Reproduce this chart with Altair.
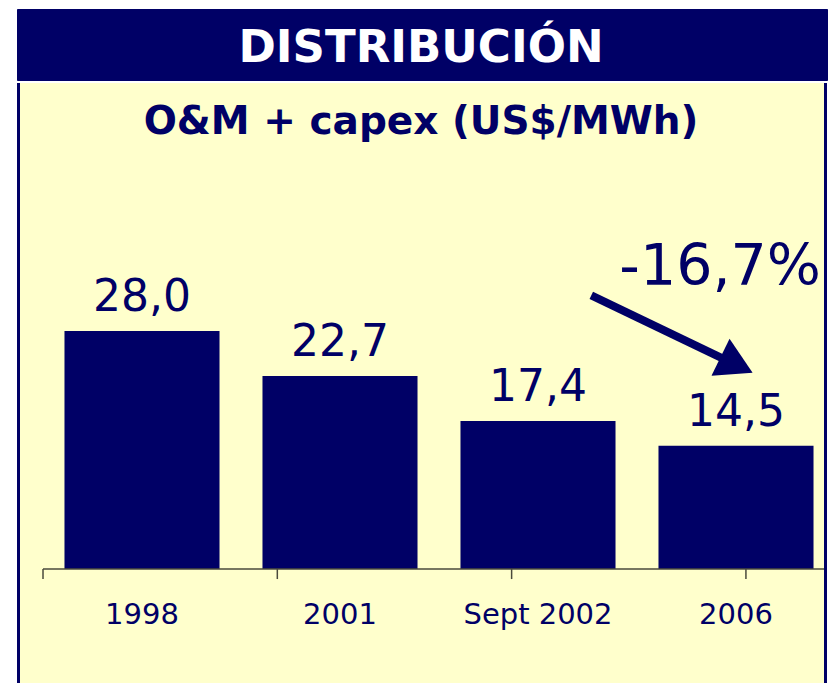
import altair as alt
import pandas as pd

# ---- data ----
categories = ["1998", "2001", "Sept 2002", "2006"]
values = [28.0, 22.7, 17.4, 14.5]

header_text = "DISTRIBUCIÓN"
subtitle_text = "O&M + capex (US$/MWh)"
change_text = "-16,7%"

# secondary (annotation) axis units: tick marks of the category axis
tick_positions = [0, 1, 2, 3]
axis_span = [0, 3.346]
# arrow (start, end) in annotation units / data units
arrow_x = [2.34, 2.96]
arrow_y = [32.2, 24.0]
change_pos = [2.89, 33.4]

NAVY = "#000066"
YELLOW = "#FFFFCC"
AXIS = "#4a4a3c"
FONT = "DejaVu Sans"

W = 810
H_HEAD = 71
H_MAIN = 600

bars_df = pd.DataFrame({"cat": categories, "value": values})
ticks_df = pd.DataFrame({"x": tick_positions, "y": [0] * 4, "y2": [-1.18] * 4})
line_df = pd.DataFrame({"x": [axis_span[0]], "x2": [axis_span[1]], "y": [0]})
arrow_df = pd.DataFrame({"x": [arrow_x[0]], "x2": [arrow_x[1]], "y": [arrow_y[0]], "y2": [arrow_y[1]]})
head_df = pd.DataFrame({"x": [arrow_x[1]], "y": [arrow_y[1]]})
change_df = pd.DataFrame({"x": [change_pos[0]], "y": [change_pos[1]], "t": [change_text]})

yscale = alt.Scale(domain=[-13.41, 57.18], nice=False, zero=False)
band = alt.Scale(domain=categories, range=[26, 818], paddingInner=0.217, paddingOuter=0.1085)
qscale = alt.Scale(domain=[-0.111, 3.346], nice=False, zero=False)

bars = alt.Chart(bars_df).mark_bar(color=NAVY).encode(
    x=alt.X("cat:N", scale=band, sort=categories, title=None,
            axis=alt.Axis(orient="bottom", offset=-114, domain=False, ticks=False, tickSize=0,
                          labelAngle=0, labelFont=FONT, labelFontSize=29, labelColor=NAVY,
                          labelBaseline="alphabetic", labelPadding=54, labelFlush=False)),
    y=alt.Y("value:Q", scale=yscale, axis=None),
)

value_labels = alt.Chart(bars_df).transform_calculate(
    label="replace(format(datum.value, '.1f'), '.', ',')"
).mark_text(font=FONT, fontSize=44, color=NAVY, baseline="bottom", dy=-11).encode(
    x=alt.X("cat:N", scale=band, sort=categories, axis=None),
    y=alt.Y("value:Q", scale=yscale, axis=None),
    text="label:N",
)

axis_line = alt.Chart(line_df).mark_rule(color=AXIS, strokeWidth=1.5).encode(
    x=alt.X("x:Q", scale=qscale, axis=None),
    x2="x2:Q",
    y=alt.Y("y:Q", scale=yscale, axis=None),
)

tick_marks = alt.Chart(ticks_df).mark_rule(color=AXIS, strokeWidth=1.5).encode(
    x=alt.X("x:Q", scale=qscale, axis=None),
    y=alt.Y("y:Q", scale=yscale, axis=None),
    y2="y2:Q",
)

arrow_line = alt.Chart(arrow_df).mark_rule(color=NAVY, strokeWidth=8).encode(
    x=alt.X("x:Q", scale=qscale, axis=None),
    x2="x2:Q",
    y=alt.Y("y:Q", scale=yscale, axis=None),
    y2="y2:Q",
)

arrow_head = alt.Chart(head_df).mark_point(
    shape="triangle-right", filled=True, color=NAVY, opacity=1, size=1700, angle=26
).encode(
    x=alt.X("x:Q", scale=qscale, axis=None),
    y=alt.Y("y:Q", scale=yscale, axis=None),
)

change_label = alt.Chart(change_df).mark_text(
    font=FONT, fontSize=57, color=NAVY, baseline="alphabetic", align="center"
).encode(
    x=alt.X("x:Q", scale=qscale, axis=None),
    y=alt.Y("y:Q", scale=yscale, axis=None),
    text="t:N",
)

subtitle = alt.Chart(pd.DataFrame({"t": [subtitle_text]})).mark_text(
    font=FONT, fontSize=39, fontWeight="bold", color=NAVY, baseline="alphabetic", align="center"
).encode(x=alt.value(404), y=alt.value(51), text="t:N")

# left and right frame lines of the yellow panel (no bottom edge, as in the reference)
frame = alt.Chart(pd.DataFrame({"side": ["left", "right"], "px": [1.5, W - 1.5]})).mark_rule(
    color=NAVY, strokeWidth=3
).encode(x=alt.X("px:Q", scale=alt.Scale(domain=[0, W], nice=False, zero=False), axis=None),
         y=alt.value(0), y2=alt.value(H_MAIN))

main = alt.layer(
    bars, value_labels, axis_line, tick_marks, arrow_line, arrow_head, change_label, subtitle, frame
).resolve_scale(x="independent").properties(
    width=W, height=H_MAIN,
    view=alt.ViewBackground(fill=YELLOW, stroke=YELLOW, strokeWidth=0),
)

header = alt.Chart(pd.DataFrame({"t": [header_text]})).mark_text(
    font=FONT, fontSize=45, fontWeight="bold", color="white", baseline="alphabetic", align="center"
).encode(x=alt.value(404), y=alt.value(53), text="t:N").properties(
    width=W, height=H_HEAD,
    view=alt.ViewBackground(fill=NAVY, stroke=NAVY, strokeWidth=1),
)

chart = alt.vconcat(header, main, spacing=0).properties(
    padding={"left": 8, "top": 0, "right": 0, "bottom": 0},
    background="white",
)

chart.save("out.html", embed_options={"renderer": "svg", "actions": False})
